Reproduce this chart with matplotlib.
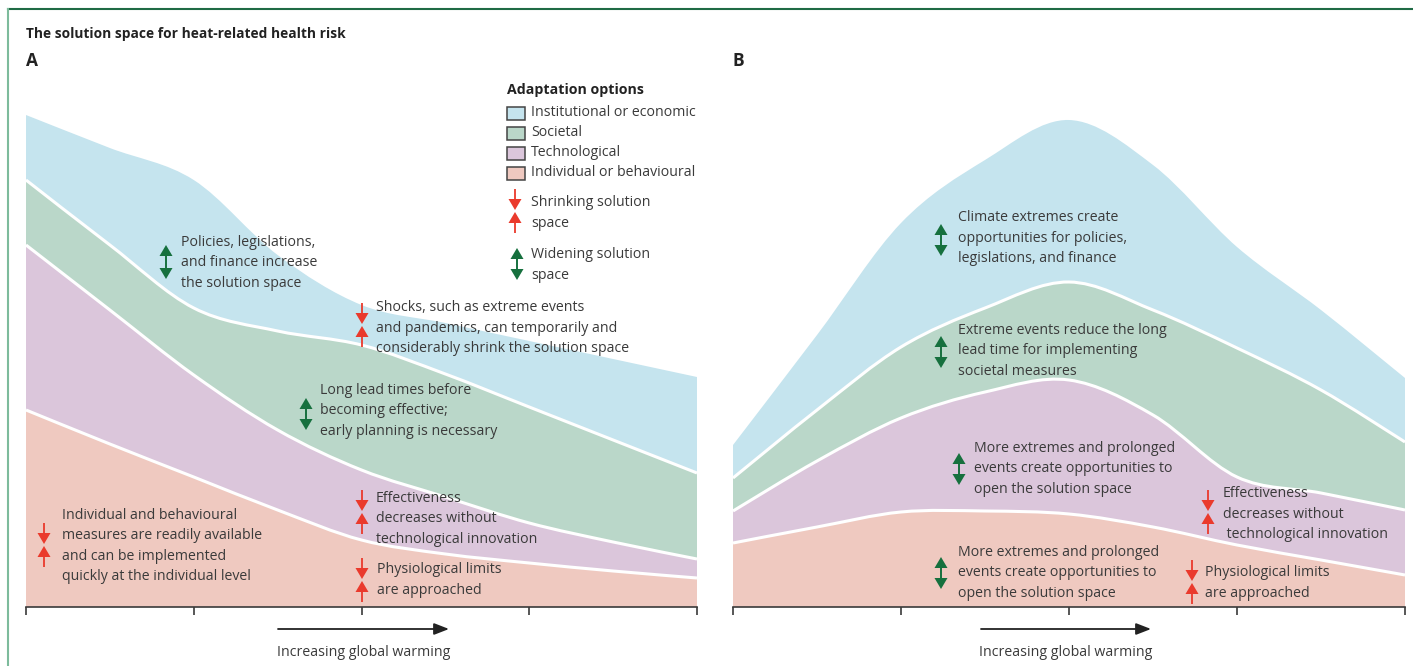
import matplotlib
matplotlib.use("Agg")
import matplotlib.pyplot as plt
from matplotlib.path import Path
from matplotlib.patches import PathPatch, Polygon, Rectangle

plt.rcParams['font.family'] = ['Open Sans', 'DejaVu Sans']

# x positions along the warming axis (tick units)
X_POS = [0, 0.5, 1, 1.5, 2, 2.5, 3, 3.5, 4]

# panel A: upper edge of each band (height above the axis)
A_INSTITUTIONAL = [49.2, 45.9, 42.7, 35.2, 30.2, 28.4, 26.6, 24.8, 23.0]
A_SOCIETAL      = [42.7, 36.2, 29.9, 27.6, 26.2, 23.3, 20.0, 16.7, 13.4]
A_TECHNOLOGICAL = [36.2, 29.7, 23.2, 17.7, 13.7, 11.0, 8.4, 6.5, 4.8]
A_INDIVIDUAL    = [19.7, 16.3, 13.0, 9.7, 6.7, 5.3, 4.4, 3.6, 2.9]

# panel B
B_INSTITUTIONAL = [16.2, 27.2, 38.4, 44.7, 48.7, 44.2, 36.0, 29.7, 22.9]
B_SOCIETAL      = [12.9, 19.7, 26.0, 29.9, 32.5, 29.7, 25.9, 21.7, 16.5]
B_TECHNOLOGICAL = [9.6, 14.6, 18.9, 21.5, 22.7, 19.2, 13.0, 11.4, 9.7]
B_INDIVIDUAL    = [6.4, 8.0, 9.5, 9.6, 9.3, 8.0, 6.2, 4.7, 3.2]

LEGEND_LABELS = ["Institutional or economic", "Societal", "Technological", "Individual or behavioural"]
BAND_COLORS = ["#c5e4ee", "#bad7c9", "#dbc6db", "#efc9c0"]

TEXT_COL = "#3a3a3a"
RED = "#ea3a2c"
GREEN = "#16703e"


def curve_verts(xs, ys):
    # catmull-rom through the read points, as bezier segments
    verts = [(xs[0], ys[0])]
    codes = [Path.MOVETO]
    n = len(xs)
    for i in range(n - 1):
        im = max(i - 1, 0)
        ip = min(i + 2, n - 1)
        c1 = (xs[i] + (xs[i + 1] - xs[im]) / 6.0, ys[i] + (ys[i + 1] - ys[im]) / 6.0)
        c2 = (xs[i + 1] - (xs[ip] - xs[i]) / 6.0, ys[i + 1] - (ys[ip] - ys[i]) / 6.0)
        verts += [c1, c2, (xs[i + 1], ys[i + 1])]
        codes += [Path.CURVE4] * 3
    return verts, codes


def draw_panel(ax, bands):
    for k, ys in enumerate(bands):
        v, c = curve_verts(X_POS, ys)
        fill_v = [(X_POS[0], 0)] + v + [(X_POS[-1], 0), (X_POS[0], 0)]
        fill_c = [Path.MOVETO, Path.LINETO] + c[1:] + [Path.LINETO, Path.CLOSEPOLY]
        ax.add_patch(PathPatch(Path(fill_v, fill_c), facecolor=BAND_COLORS[k], edgecolor='none', zorder=1 + k))
        if k > 0:
            ax.add_patch(PathPatch(Path(v, c), fill=False, edgecolor='white', lw=2.2, zorder=1.5 + k,
                                   capstyle='butt'))
    ax.set_xlim(0, 4)
    ax.set_ylim(0, 50)
    for s in ['top', 'left', 'right']:
        ax.spines[s].set_visible(False)
    ax.spines['bottom'].set_color('#3a3a3a')
    ax.spines['bottom'].set_linewidth(1.2)
    ax.spines['bottom'].set_zorder(10)
    ax.set_yticks([])
    ax.set_xticks([0, 1, 2, 3, 4])
    ax.set_xticklabels([])
    ax.tick_params(axis='x', direction='out', length=6, width=1.2, color='#3a3a3a')
    ax.patch.set_alpha(0)


W, H = 1413, 666
fig = plt.figure(figsize=(W / 100, H / 100), dpi=100)

axA = fig.add_axes([26 / W, 59 / H, 671 / W, 500 / H])
draw_panel(axA, [A_INSTITUTIONAL, A_SOCIETAL, A_TECHNOLOGICAL, A_INDIVIDUAL])
axB = fig.add_axes([733 / W, 59 / H, 672 / W, 500 / H])
draw_panel(axB, [B_INSTITUTIONAL, B_SOCIETAL, B_TECHNOLOGICAL, B_INDIVIDUAL])

# overlay in pixel coords for labels and arrows
ov = fig.add_axes([0, 0, 1, 1], zorder=20)
ov.set_xlim(0, W)
ov.set_ylim(H, 0)
ov.axis('off')
ov.patch.set_alpha(0)


def shrink_arrow(x, yc, h=22):
    ov.plot([x, x], [yc - h, yc - 10], color=RED, lw=1.3, solid_capstyle='butt')
    ov.add_patch(Polygon([(x - 6.5, yc - 12), (x + 6.5, yc - 12), (x, yc - 1)], closed=True, color=RED, lw=0))
    ov.add_patch(Polygon([(x - 6.5, yc + 12), (x + 6.5, yc + 12), (x, yc + 1)], closed=True, color=RED, lw=0))
    ov.plot([x, x], [yc + 10, yc + h], color=RED, lw=1.3, solid_capstyle='butt')


def widen_arrow(x, yc, h=16):
    ov.add_patch(Polygon([(x - 6.5, yc - h + 11), (x + 6.5, yc - h + 11), (x, yc - h)], closed=True, color=GREEN, lw=0))
    ov.plot([x, x], [yc - h + 10, yc + h - 10], color=GREEN, lw=1.4, solid_capstyle='butt')
    ov.add_patch(Polygon([(x - 6.5, yc + h - 11), (x + 6.5, yc + h - 11), (x, yc + h)], closed=True, color=GREEN, lw=0))


def note(x, y, s, fs=10.2):
    ov.text(x, y, s, fontsize=fs, color=TEXT_COL, ha='left', va='center', linespacing=1.5)


# frame
ov.plot([8, W], [9, 9], color='#1f6b45', lw=1.5)
ov.plot([8, 8], [9, H], color='#7dbb9c', lw=1.5)

ov.text(26, 34, "The solution space for heat-related health risk", fontsize=9.9, fontweight='bold',
        color='#222222', va='center')
ov.text(26, 61, "A", fontsize=12.5, fontweight='bold', color='#222222', va='center')
ov.text(733, 61, "B", fontsize=12.5, fontweight='bold', color='#222222', va='center')

# legend
ov.text(507, 90, "Adaptation options", fontsize=10.2, fontweight='bold', color='#222222', va='center')
for i, lab in enumerate(LEGEND_LABELS):
    yy = 113 + 20 * i
    ov.add_patch(Rectangle((507, yy - 6.5), 18, 13, facecolor=BAND_COLORS[i], edgecolor='#444444', lw=1.1))
    note(531, yy, lab)
shrink_arrow(515, 211)
note(531, 213, "Shrinking solution\nspace")
widen_arrow(517, 264)
note(531, 265, "Widening solution\nspace")

# panel A notes
widen_arrow(166, 262, 17)
note(181, 263, "Policies, legislations,\nand finance increase\nthe solution space")
shrink_arrow(362, 325)
note(376, 328, "Shocks, such as extreme events\nand pandemics, can temporarily and\nconsiderably shrink the solution space")
widen_arrow(306, 414)
note(320, 411, "Long lead times before\nbecoming effective;\nearly planning is necessary")
shrink_arrow(362, 512)
note(376, 519, "Effectiveness\ndecreases without\ntechnological innovation")
shrink_arrow(44, 545)
note(62, 546, "Individual and behavioural\nmeasures are readily available\nand can be implemented\nquickly at the individual level")
shrink_arrow(362, 580)
note(377, 580, "Physiological limits\nare approached")

# panel B notes
widen_arrow(941, 240)
note(958, 238, "Climate extremes create\nopportunities for policies,\nlegislations, and finance")
widen_arrow(941, 352)
note(958, 351, "Extreme events reduce the long\nlead time for implementing\nsocietal measures")
widen_arrow(959, 469)
note(974, 469, "More extremes and prolonged\nevents create opportunities to\nopen the solution space")
shrink_arrow(1208, 512)
note(1223, 514, "Effectiveness\ndecreases without\n technological innovation")
widen_arrow(941, 573)
note(958, 573, "More extremes and prolonged\nevents create opportunities to\nopen the solution space")
shrink_arrow(1192, 582)
note(1205, 583, "Physiological limits\nare approached")

# warming arrows
for x0, x1 in [(278, 449), (981, 1151)]:
    ov.annotate("", xy=(x1, 629), xytext=(x0, 629),
                arrowprops=dict(arrowstyle='-|>,head_length=0.9,head_width=0.35', color='#222222', lw=1.3,
                                shrinkA=0, shrinkB=0))
    ov.text((x0 + x1) / 2, 652, "Increasing global warming", fontsize=10.2, color=TEXT_COL,
            ha='center', va='center')

fig.savefig("out.png", dpi=100)
